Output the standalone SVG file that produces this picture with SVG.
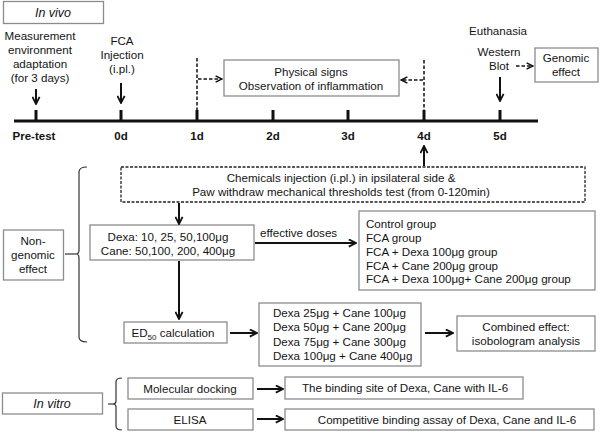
<svg xmlns="http://www.w3.org/2000/svg" width="600" height="432" viewBox="0 0 600 432">
<defs>
<style>
text{font-family:"Liberation Sans",Arial,sans-serif;font-size:11.6px;fill:#141414}
.c{text-anchor:middle}
.i{font-style:italic;font-size:12.5px}
.b{font-weight:bold;font-size:11.5px;text-anchor:middle}
.box{fill:#fff;stroke:#8c8c8c;stroke-width:1.3}
.dbox{fill:#fff;stroke:#222;stroke-width:1.3;stroke-dasharray:3 1.5}
.ln{fill:none;stroke:#111;stroke-width:2}
.dl{fill:none;stroke:#111;stroke-width:1.5;stroke-dasharray:3.5 2}
.br{fill:none;stroke:#333;stroke-width:1.2}
</style>
<marker id="ah" viewBox="0 0 10 10" refX="9" refY="5" markerWidth="9" markerHeight="9" markerUnits="userSpaceOnUse" orient="auto">
<path d="M1,1 L9,5 L1,9" fill="none" stroke="#111" stroke-width="2"/>
</marker>
<marker id="ahs" viewBox="0 0 10 10" refX="9" refY="5" markerWidth="8" markerHeight="8" markerUnits="userSpaceOnUse" orient="auto">
<path d="M1,1 L9,5 L1,9" fill="none" stroke="#111" stroke-width="1.8"/>
</marker>
</defs>

<g id="invivo"><rect class="box" x="3.5" y="1.5" width="100" height="22"/><text class="c i" x="53" y="17">In vivo</text></g>

<g id="timeline">
<line x1="14" y1="121" x2="538" y2="121" stroke="#111" stroke-width="3"/>
<g stroke="#111" stroke-width="3">
<line x1="36" y1="110" x2="36" y2="121"/>
<line x1="121" y1="110" x2="121" y2="121"/>
<line x1="197" y1="110" x2="197" y2="121"/>
<line x1="273" y1="110" x2="273" y2="121"/>
<line x1="348" y1="110" x2="348" y2="121"/>
<line x1="424" y1="110" x2="424" y2="121"/>
<line x1="500" y1="110" x2="500" y2="121"/>
</g>
<text class="b" x="34" y="140">Pre-test</text>
<text class="b" x="121" y="140">0d</text>
<text class="b" x="197" y="140">1d</text>
<text class="b" x="273" y="140">2d</text>
<text class="b" x="348" y="140">3d</text>
<text class="b" x="424" y="140">4d</text>
<text class="b" x="500" y="140">5d</text>
</g>

<g id="measurement"><text class="c" x="40" y="40">Measurement</text><text class="c" x="40" y="54">environment</text><text class="c" x="40" y="68">adaptation</text><text class="c" x="40" y="82">(for 3 days)</text></g>
<g id="fca"><text class="c" x="122" y="45">FCA</text><text class="c" x="122" y="59">Injection</text><text class="c" x="122" y="73">(i.pl.)</text></g>
<g id="physical"><rect class="box" x="224" y="60" width="175" height="36"/><text class="c" x="311" y="76">Physical signs</text><text class="c" x="311" y="90">Observation of inflammation</text></g>
<g id="euthanasia"><text class="c" x="498" y="35">Euthanasia</text><text class="c" x="499" y="56">Western</text><text class="c" x="499" y="70">Blot</text></g>
<g id="genomic"><rect class="box" x="535" y="48" width="63" height="34"/><text class="c" x="566" y="62">Genomic</text><text class="c" x="566" y="76">effect</text></g>

<g id="chemicals"><rect class="dbox" x="121" y="167" width="464" height="35"/><text class="c" x="341" y="182">Chemicals injection (i.pl.) in ipsilateral side &amp;</text><text class="c" x="341" y="196">Paw withdraw mechanical thresholds test (from 0-120min)</text></g>
<g id="nongenomic"><rect class="box" x="3.5" y="230" width="60" height="50"/><text class="c" x="33" y="245">Non-</text><text class="c" x="33" y="259">genomic</text><text class="c" x="33" y="273">effect</text></g>
<g id="doses"><rect class="box" x="90" y="225" width="164" height="35"/><text class="c" x="168" y="241">Dexa: 10, 25, 50,100μg</text><text class="c" x="168" y="255">Cane: 50,100, 200, 400μg</text></g>
<g id="groups"><rect class="box" x="359" y="211" width="236" height="79"/>
<text x="366" y="228">Control group</text><text x="366" y="242">FCA group</text><text x="366" y="255.5">FCA + Dexa 100μg group</text><text x="366" y="269.5">FCA + Cane 200μg group</text><text x="366" y="283">FCA + Dexa 100μg+ Cane 200μg group</text></g>
<g id="ed50"><rect class="box" x="124" y="322" width="103" height="21"/><text class="c" x="173" y="337">ED<tspan font-size="8" dy="3">50</tspan><tspan dy="-3"> calculation</tspan></text></g>
<g id="combos"><rect class="box" x="259" y="303" width="162" height="63"/>
<text x="273" y="317">Dexa 25μg + Cane 100μg</text><text x="273" y="331">Dexa 50μg + Cane 200μg</text><text x="273" y="346">Dexa 75μg + Cane 300μg</text><text x="273" y="360">Dexa 100μg + Cane 400μg</text></g>
<g id="combined"><rect class="box" x="457" y="316" width="138" height="35"/><text class="c" x="526" y="331">Combined effect:</text><text class="c" x="526" y="345">isobologram analysis</text></g>

<g id="invitro"><rect class="box" x="2.5" y="393" width="100" height="21"/><text class="c i" x="52" y="408">In vitro</text></g>
<g id="docking"><rect class="box" x="128" y="378" width="125" height="21"/><text class="c" x="190" y="393">Molecular docking</text></g>
<g id="elisa"><rect class="box" x="128" y="409" width="125" height="21"/><text class="c" x="190" y="424">ELISA</text></g>
<g id="binding"><rect class="box" x="285" y="377" width="238" height="22"/><text class="c" x="405" y="392">The binding site of Dexa, Cane with IL-6</text></g>
<g id="competitive"><rect class="box" x="285" y="409" width="309" height="21"/><text class="c" x="447" y="424">Competitive binding assay of Dexa, Cane and IL-6</text></g>

<g id="connectors">
<line class="ln" x1="36" y1="89" x2="36" y2="104" marker-end="url(#ah)"/>
<line class="ln" x1="121" y1="83" x2="121" y2="103" marker-end="url(#ah)"/>
<line class="ln" x1="500" y1="77" x2="500" y2="101" marker-end="url(#ah)"/>
<line class="dl" x1="197" y1="58" x2="197" y2="110"/>
<line class="dl" x1="424" y1="60" x2="424" y2="110"/>
<line class="dl" x1="198" y1="79" x2="222" y2="79" marker-end="url(#ahs)"/>
<line class="dl" x1="423" y1="80" x2="401" y2="80" marker-end="url(#ahs)"/>
<line class="dl" x1="516" y1="66" x2="533" y2="66" marker-end="url(#ahs)"/>
<line class="ln" x1="424" y1="166" x2="424" y2="146" marker-end="url(#ah)"/>
<line class="ln" x1="179" y1="203" x2="179" y2="224" marker-end="url(#ah)"/>
<line class="ln" x1="255" y1="243" x2="356" y2="243" marker-end="url(#ah)"/>
<text x="260" y="237">effective doses</text>
<line class="ln" x1="179" y1="261" x2="179" y2="319" marker-end="url(#ah)"/>
<line class="ln" x1="230" y1="333" x2="257" y2="333" marker-end="url(#ah)"/>
<line class="ln" x1="425" y1="333" x2="453" y2="333" marker-end="url(#ah)"/>
<line class="ln" x1="257" y1="389" x2="283" y2="389" marker-end="url(#ah)"/>
<line class="ln" x1="257" y1="419" x2="283" y2="419" marker-end="url(#ah)"/>
<line class="br" x1="65" y1="254" x2="76" y2="254"/>
<path class="br" d="M87,167 Q79,167 79,172 L79,250 Q79,254 76,254 Q79,254 79,258 L79,337 Q79,342 87,342"/>
<line class="br" x1="108" y1="404" x2="113" y2="404"/>
<path class="br" d="M122,378 Q116,378 116,382 L116,401 Q116,404 113,404 Q116,404 116,407 L116,426 Q116,430 122,430"/>
</g>
</svg>
